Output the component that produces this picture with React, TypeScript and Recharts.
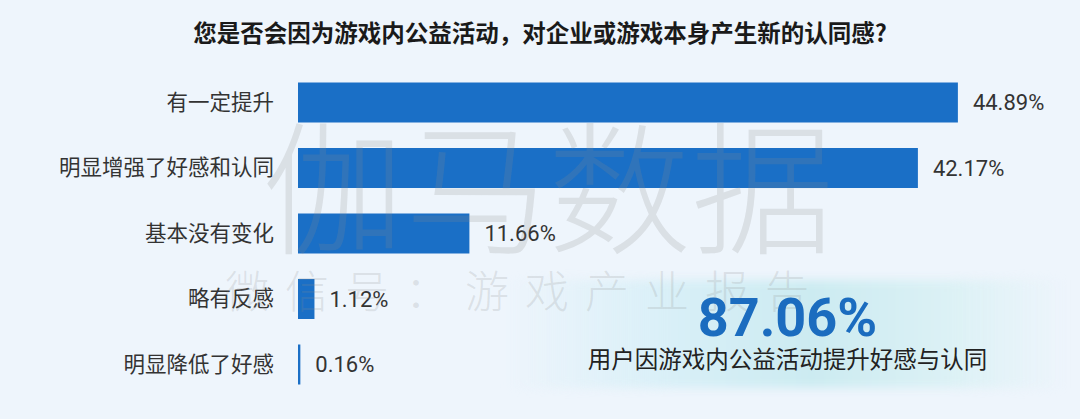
import React from 'react'
import { Bar, BarChart, XAxis, YAxis, LabelList } from 'recharts'

const categories = ['有一定提升', '明显增强了好感和认同', '基本没有变化', '略有反感', '明显降低了好感']
const shares = [44.89, 42.17, 11.66, 1.12, 0.16]
const xDomain = [0, 50]

const title = '您是否会因为游戏内公益活动，对企业或游戏本身产生新的认同感?'
const highlightValue = '87.06%'
const highlightText = '用户因游戏内公益活动提升好感与认同'

const data = categories.map((name, i) => ({ name, value: shares[i] }))

const BLUE = '#1a6fc6'
const CJK = '"Noto Sans CJK SC", "Noto Sans", sans-serif'

export default function App() {
  return (
    <div
      style={{
        position: 'absolute',
        left: 0,
        top: 0,
        width: 1080,
        height: 419,
        overflow: 'hidden',
        background: '#eef5fc',
        fontFamily: CJK,
      }}
    >
      <div
        style={{
          position: 'absolute',
          left: 0,
          top: 16,
          width: 1080,
          textAlign: 'center',
          fontSize: 23.5,
          fontWeight: 700,
          color: '#1a1a1a',
          lineHeight: '32px',
        }}
      >
        {title}
      </div>

      {/* callout background */}
      <div
        style={{
          position: 'absolute',
          left: 505,
          top: 280,
          width: 560,
          height: 108,
          filter: 'blur(5px)',
          background:
            'linear-gradient(90deg, rgba(222,240,250,0) 0%, #d8eff7 30%, #ccebf1 55%, #dcf1f5 80%, rgba(232,245,250,0) 100%)',
        }}
      />

      <div style={{ position: 'absolute', left: 0, top: 0 }}>
        <BarChart
          width={1080}
          height={419}
          data={data}
          layout="vertical"
          margin={{ top: 69.5, right: 47, bottom: 22, left: 0 }}
          barSize={40}
        >
          <XAxis type="number" domain={xDomain} hide />
          <YAxis
            type="category"
            dataKey="name"
            width={298}
            axisLine={false}
            tickLine={false}
            tickSize={0}
            tickMargin={24}
            tick={{ fontSize: 21.5, fill: '#333', fontFamily: CJK }}
            interval={0}
          />
          <Bar dataKey="value" fill={BLUE} isAnimationActive={false}>
            <LabelList
              dataKey="value"
              position="right"
              offset={15}
              formatter={(v: number) => `${v.toFixed(2)}%`}
              style={{ fontSize: 22, fill: '#333', fontFamily: 'Roboto, sans-serif' }}
            />
          </Bar>
        </BarChart>
      </div>

      {/* watermark */}
      <div
        style={{
          position: 'absolute',
          left: 262,
          top: 96,
          fontSize: 143,
          lineHeight: '170px',
          fontWeight: 300,
          color: 'rgba(140,140,140,0.2)',
          whiteSpace: 'nowrap',
          pointerEvents: 'none',
        }}
      >
        伽马数据
      </div>
      <div
        style={{
          position: 'absolute',
          left: 225,
          top: 262,
          fontSize: 44,
          lineHeight: '54px',
          letterSpacing: 16,
          fontWeight: 300,
          color: 'rgba(140,140,140,0.2)',
          whiteSpace: 'nowrap',
          pointerEvents: 'none',
        }}
      >
        微信号：游戏产业报告
      </div>

      <div
        style={{
          position: 'absolute',
          left: 500,
          top: 288,
          width: 575,
          textAlign: 'center',
          fontFamily: 'Roboto, sans-serif',
          fontWeight: 700,
          fontSize: 54,
          lineHeight: '60px',
          color: '#1b6cbf',
        }}
      >
        {highlightValue}
      </div>
      <div
        style={{
          position: 'absolute',
          left: 500,
          top: 342,
          width: 575,
          textAlign: 'center',
          fontSize: 23.5,
          lineHeight: '32px',
          color: '#222',
        }}
      >
        {highlightText}
      </div>
    </div>
  )
}
